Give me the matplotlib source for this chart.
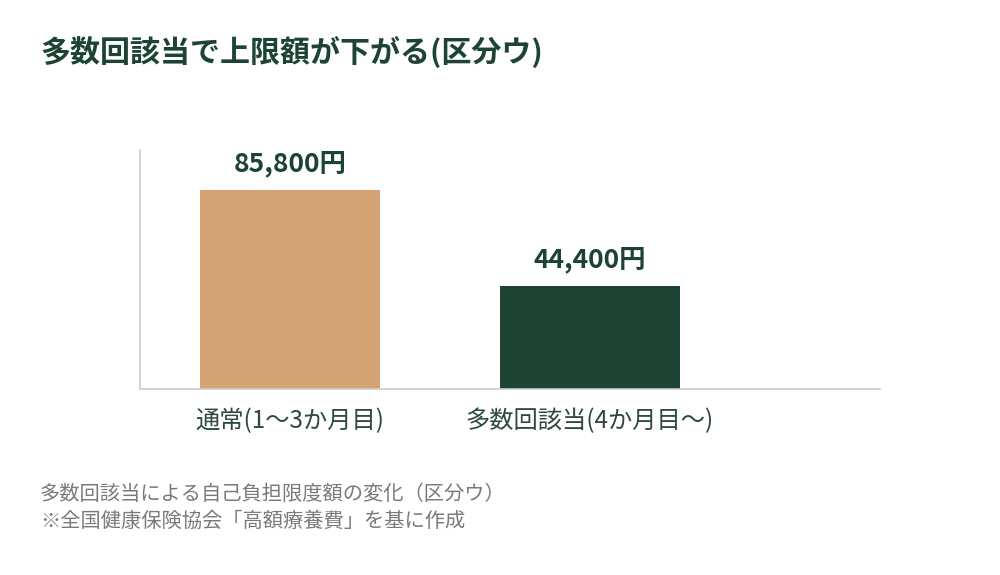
import matplotlib
matplotlib.use("Agg")
import matplotlib.pyplot as plt

plt.rcParams['font.family'] = ['Noto Sans CJK JP', 'DejaVu Sans']

categories = ["通常(1〜3か月目)", "多数回該当(4か月目〜)"]
values = [85800, 44400]
value_labels = ["85,800円", "44,400円"]
colors = ["#D3A373", "#1D4433"]

title = "多数回該当で上限額が下がる(区分ウ)"
caption = ["多数回該当による自己負担限度額の変化（区分ウ）", "※全国健康保険協会「高額療養費」を基に作成"]

fig = plt.figure(figsize=(10, 5.75), dpi=100)
ax = fig.add_axes([0.14, 1 - 389/575, 0.74, (389-150)/575])

x = list(range(len(categories)))
bars = ax.bar(x, values, width=0.6, color=colors)
ax.set_xlim(-0.5, 1.967)
ax.set_ylim(0, 103000)

for b, lab in zip(bars, value_labels):
    ax.annotate(lab, (b.get_x() + b.get_width()/2, b.get_height()),
                xytext=(0, 9), textcoords="offset points",
                ha="center", va="bottom", fontsize=19, fontweight="bold", color="#1D4433")

ax.set_xticks(x)
ax.set_xticklabels(categories, fontsize=17.5, color="#2E4A3C")
ax.tick_params(axis='x', length=0, pad=14)
ax.set_yticks([])
for s in ["top", "right"]:
    ax.spines[s].set_visible(False)
for s in ["left", "bottom"]:
    ax.spines[s].set_color("#CCCCCC")
    ax.spines[s].set_linewidth(1.2)

fig.text(0.04, 1 - 52/575, title, fontsize=21.6, fontweight="bold", color="#1D4433", va="center", ha="left")
fig.text(0.04, 1 - 494/575, caption[0], fontsize=14.6, color="#7A7A7A", va="center", ha="left")
fig.text(0.04, 1 - 521/575, caption[1], fontsize=14.6, color="#7A7A7A", va="center", ha="left")

fig.savefig("out.png", dpi=100, facecolor="white")
